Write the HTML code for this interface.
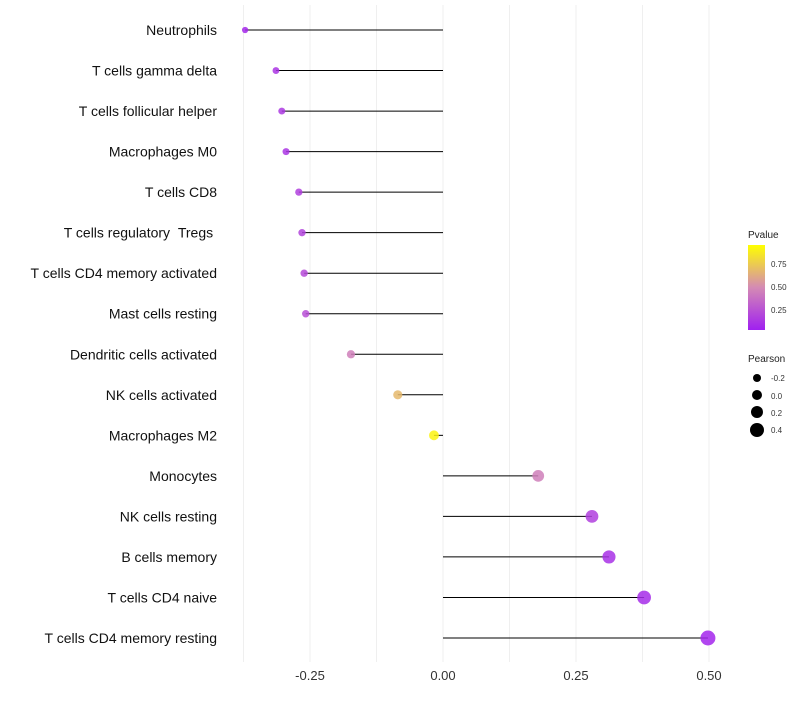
<!DOCTYPE html>
<html><head><meta charset="utf-8"><style>
body{margin:0;background:#fff;font-family:"Liberation Sans",sans-serif;}
</style></head><body>
<svg id="chart" width="800" height="700" xmlns="http://www.w3.org/2000/svg" font-family="Liberation Sans, sans-serif">
<defs>
<linearGradient id="pg" x1="0" y1="1" x2="0" y2="0">
<stop offset="0" stop-color="#A020F0"/>
<stop offset="0.5" stop-color="#D48AB4"/>
<stop offset="1" stop-color="#FFFF00"/>
</linearGradient>
</defs>
<g id="grid"></g>
<g id="marks"></g>
<g id="ylabels"></g>
<g id="xticks"></g>
<g>
<text x="748" y="238" font-size="10" fill="#222">Pvalue</text>
<rect x="748" y="245" width="17" height="85" fill="url(#pg)"/>
<text x="771" y="267" font-size="8" fill="#333">0.75</text>
<text x="771" y="290" font-size="8" fill="#333">0.50</text>
<text x="771" y="313" font-size="8" fill="#333">0.25</text>
</g>
<g>
<text x="748" y="362" font-size="10" fill="#222">Pearson</text>
<circle cx="757" cy="378" r="4" fill="#000"/><text x="771" y="381" font-size="8" fill="#333">-0.2</text>
<circle cx="757" cy="395" r="5" fill="#000"/><text x="771" y="399" font-size="8" fill="#333">0.0</text>
<circle cx="757" cy="412" r="6" fill="#000"/><text x="771" y="416" font-size="8" fill="#333">0.2</text>
<circle cx="757" cy="430" r="7" fill="#000"/><text x="771" y="433" font-size="8" fill="#333">0.4</text>
</g>
</svg>
<script>
const categories=["Neutrophils","T cells gamma delta","T cells follicular helper","Macrophages M0","T cells CD8","T cells regulatory \u00a0Tregs\u00a0","T cells CD4 memory activated","Mast cells resting","Dendritic cells activated","NK cells activated","Macrophages M2","Monocytes","NK cells resting","B cells memory","T cells CD4 naive","T cells CD4 memory resting"];
const pearson=[-0.372,-0.314,-0.303,-0.295,-0.271,-0.265,-0.261,-0.258,-0.173,-0.085,-0.017,0.179,0.280,0.312,0.378,0.498];
const pvalues=[0.04,0.1,0.12,0.1,0.15,0.17,0.2,0.22,0.45,0.7,0.95,0.45,0.15,0.08,0.06,0.03];
const tickValues=[-0.25,0,0.25,0.5];
const tickLabels=["-0.25","0.00","0.25","0.50"];
const NS="http://www.w3.org/2000/svg";
function xs(v){return 443+v*532;}
function ys(i){return 30+i*(608/15);}
function rs(v){return Math.max(1.8,5+5*v);}
function lerp(a,b,t){return a.map((x,i)=>Math.round(x+(b[i]-x)*t));}
function col(p){const a=[160,32,240],m=[212,138,180],b=[255,255,0];const c=p<0.5?lerp(a,m,p/0.5):lerp(m,b,(p-0.5)/0.5);return `rgb(${c})`;}
function mk(t,at,parent){const e=document.createElementNS(NS,t);for(const k in at)e.setAttribute(k,at[k]);parent.appendChild(e);return e;}
const grid=document.getElementById('grid'),marks=document.getElementById('marks'),yl=document.getElementById('ylabels'),xt=document.getElementById('xticks');
for(let v=-0.375;v<=0.5001;v+=0.125){const l=mk('line',{x1:xs(v),x2:xs(v),y1:5,y2:662,stroke:'#efefef','stroke-width':1},grid);

}
tickValues.forEach((v,i)=>{const t=mk('text',{x:xs(v),y:680,'font-size':13,'text-anchor':'middle',fill:'#333'},xt);t.textContent=tickLabels[i];

});
categories.forEach((c,i)=>{const y=ys(i);
const t=mk('text',{x:217,y:y+5,'font-size':14,'text-anchor':'end',fill:'#111'},yl);t.textContent=c;


const l=mk('line',{x1:xs(0),x2:xs(pearson[i]),y1:y,y2:y,stroke:'#000','stroke-width':1},marks);


const d=mk('circle',{cx:xs(pearson[i]),cy:y,r:rs(pearson[i]),fill:col(pvalues[i]),'fill-opacity':0.85},marks);

});
</script>
</body></html>
